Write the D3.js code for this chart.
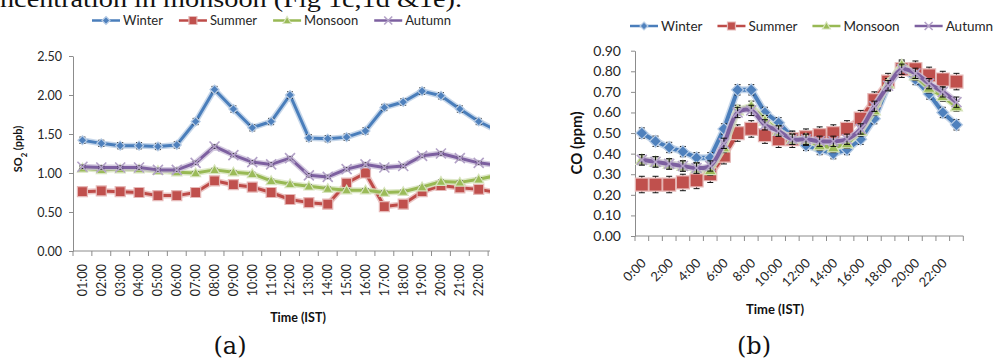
<!DOCTYPE html>
<html>
<head>
<meta charset="utf-8">
<script src="https://cdn.jsdelivr.net/npm/d3@7"></script>
<style>
  body { margin: 0; background: #fff; }
  svg { display: block; font-family: Lato, "Open Sans", sans-serif; }
</style>
</head>
<body>
<svg id="chart" width="1003" height="359"></svg>
<script>
// ---- Panel (a): SO2, hourly means per season ----
const soTimes = ["01:00","02:00","03:00","04:00","05:00","06:00","07:00","08:00","09:00","10:00","11:00","12:00",
                 "13:00","14:00","15:00","16:00","17:00","18:00","19:00","20:00","21:00","22:00","23:00"];
const soWinter  = [1.42,1.38,1.35,1.35,1.34,1.36,1.66,2.07,1.82,1.58,1.66,2.00,1.45,1.44,1.46,1.54,1.84,1.91,2.05,1.99,1.82,1.66,1.54];
const soSummer  = [0.76,0.77,0.76,0.75,0.71,0.71,0.75,0.90,0.85,0.82,0.75,0.66,0.62,0.60,0.87,1.00,0.57,0.60,0.76,0.84,0.81,0.79,0.75];
const soMonsoon = [1.06,1.04,1.05,1.05,1.03,1.01,1.00,1.04,1.01,0.99,0.90,0.86,0.83,0.80,0.78,0.78,0.75,0.76,0.82,0.89,0.88,0.92,0.97];
const soAutumn  = [1.08,1.07,1.07,1.07,1.04,1.04,1.13,1.34,1.23,1.14,1.11,1.19,0.97,0.95,1.05,1.11,1.07,1.09,1.22,1.25,1.19,1.13,1.10];
const soErr     = [0.04,0.02,0.02,0.02];   // Winter, Summer, Monsoon, Autumn
const soTicks   = [0,0.5,1,1.5,2,2.5];

// ---- Panel (b): CO, hourly means per season ----
const coTimes = ["0:00","1:00","2:00","3:00","4:00","5:00","6:00","7:00","8:00","9:00","10:00","11:00",
                 "12:00","13:00","14:00","15:00","16:00","17:00","18:00","19:00","20:00","21:00","22:00","23:00"];
const coWinter  = [0.50,0.46,0.43,0.41,0.38,0.38,0.52,0.71,0.71,0.60,0.55,0.48,0.44,0.42,0.40,0.42,0.47,0.57,0.73,0.82,0.76,0.69,0.60,0.54];
const coSummer  = [0.25,0.25,0.25,0.26,0.27,0.30,0.39,0.50,0.52,0.49,0.47,0.47,0.48,0.49,0.50,0.52,0.57,0.66,0.75,0.81,0.81,0.78,0.76,0.75];
const coMonsoon = [0.37,0.36,0.35,0.34,0.33,0.32,0.43,0.61,0.63,0.56,0.51,0.47,0.47,0.44,0.43,0.45,0.51,0.61,0.74,0.83,0.78,0.72,0.68,0.63];
const coAutumn  = [0.37,0.36,0.35,0.34,0.33,0.34,0.45,0.60,0.61,0.54,0.51,0.47,0.47,0.46,0.46,0.47,0.52,0.63,0.73,0.81,0.79,0.74,0.70,0.65];
const coErr     = [0.025,0.04,0.025,0.025];
const coTicks   = [0,0.1,0.2,0.3,0.4,0.5,0.6,0.7,0.8,0.9];

const seasons = ["Winter","Summer","Monsoon","Autumn"];
const markers = ["diamond","square","triangle","x"];
const lineColors   = ["#4A7EBB","#BE4B48","#98B954","#7D60A0"];
const glowColors   = ["#B9CDE5","#E6B9B8","#D7E4BD","#CCC1DA"];
const markerFill   = ["#4F81BD","#C0504D","#9BBB59","#B3A2C7"];

const svg = d3.select("#chart");
const defs = svg.append("defs");
defs.append("clipPath").attr("id","clipA")
  .append("rect").attr("x",0).attr("y",0).attr("width",490).attr("height",359);

const axisColor = "#8C8C8C";
const textColor = "#262626";

function markerPath(type, r) {
  if (type === "diamond") return `M0,${-r}L${r},0L0,${r}L${-r},0Z`;
  if (type === "square") return `M${-r},${-r}H${r}V${r}H${-r}Z`;
  if (type === "triangle") return `M0,${-r}L${r},${r*0.75}L${-r},${r*0.75}Z`;
  return `M${-r},${-r}L${r},${r}M${r},${-r}L${-r},${r}`;
}

function drawMarker(g, type, i, r, cx, cy) {
  const p = g.append("path").attr("d", markerPath(type, r))
    .attr("transform", `translate(${cx},${cy})`);
  if (type === "x") {
    p.attr("fill","none").attr("stroke", markerFill[i]).attr("stroke-width", 1.6);
  } else {
    p.attr("fill", markerFill[i]).attr("stroke", glowColors[i]).attr("stroke-width", 1.2);
  }
}

function drawPanel(cfg) {
  const { g, times, series, errs, x, y, ticks, lineW, markerR, smooth } = cfg;
  const bw = x.bandwidth();
  const x0 = x.range()[0], x1 = x.range()[1];
  const yBase = y(0);

  // y axis
  const ay = g.append("g").attr("transform", `translate(${x0},0)`)
    .call(d3.axisLeft(y).tickValues(ticks).tickFormat(d3.format(".2f"))
      .tickSize(4).tickSizeOuter(0).tickPadding(cfg.yPad));
  ay.selectAll("path,line").attr("stroke", axisColor);
  ay.selectAll("text").attr("fill", textColor).style("font-size", cfg.yFont + "px")
    .style("font-family", "Lato, sans-serif");

  // x axis line and category boundary ticks
  g.append("line").attr("x1", x0).attr("x2", x1).attr("y1", yBase).attr("y2", yBase)
    .attr("stroke", axisColor);
  g.selectAll(null).data(d3.range(times.length + 1)).join("line")
    .attr("x1", i => x0 + i * bw).attr("x2", i => x0 + i * bw)
    .attr("y1", yBase).attr("y2", yBase + 5).attr("stroke", axisColor);

  // x labels
  const shown = times.filter((d, i) => i % cfg.labelStep === 0);
  g.selectAll(null).data(shown).join("text")
    .attr("transform", d => `translate(${x(d) + bw / 2 + cfg.labelDx},${yBase + cfg.labelDy}) rotate(${cfg.labelRot})`)
    .attr("text-anchor", "end").attr("dy", cfg.labelRot === -90 ? "0.35em" : "0")
    .attr("fill", textColor).style("font-size", cfg.xFont + "px").text(d => d);

  // series
  series.forEach((vals, i) => {
    const pts = vals.map((v, k) => [x(times[k]) + bw / 2, y(v)]);
    const line = d3.line().curve(smooth && i === 3 ? d3.curveCatmullRom.alpha(0.5) : d3.curveLinear);
    const sg = g.append("g");
    sg.append("path").attr("d", line(pts)).attr("fill", "none")
      .attr("stroke", glowColors[i]).attr("stroke-width", lineW + 3).attr("stroke-linejoin", "round")
      .attr("opacity", 0.8);
    sg.append("path").attr("d", line(pts)).attr("fill", "none")
      .attr("stroke", lineColors[i]).attr("stroke-width", lineW).attr("stroke-linejoin", "round");
    // error bars
    const e = errs[i];
    vals.forEach((v, k) => {
      const cx = x(times[k]) + bw / 2;
      const ya = y(v + e), yb = y(v - e);
      sg.append("path").attr("d", `M${cx},${ya}V${yb}M${cx - 3},${ya}H${cx + 3}M${cx - 3},${yb}H${cx + 3}`)
        .attr("stroke", "#111").attr("stroke-width", 1).attr("fill", "none");
    });
    vals.forEach((v, k) => drawMarker(sg, markers[i], i, markerR[i], x(times[k]) + bw / 2, y(v)));
  });

  // y title
  const yt = g.append("text")
    .attr("transform", `translate(${cfg.yTitle[0]},${cfg.yTitle[1]}) rotate(-90)`)
    .attr("text-anchor", "middle").attr("dy", "0.35em")
    .attr("fill", "#111").style("font-weight", "bold").style("font-size", cfg.yTitleFont + "px");
  cfg.yTitleParts.forEach(p => {
    const t = yt.append("tspan").text(p.t);
    if (p.sub) t.attr("baseline-shift", "sub").style("font-size", (cfg.yTitleFont * 0.7) + "px");
  });

  // x title
  g.append("text").attr("x", cfg.xTitle[0]).attr("y", cfg.xTitle[1]).attr("text-anchor", "middle")
    .attr("fill", "#111").style("font-weight", "bold").style("font-size", cfg.xTitleFont + "px")
    .text("Time (IST)");

  // legend
  let lx = cfg.legend[0];
  const ly = cfg.legend[1];
  seasons.forEach((s, i) => {
    const lg = g.append("g");
    lg.append("line").attr("x1", lx).attr("x2", lx + 28).attr("y1", ly).attr("y2", ly)
      .attr("stroke", lineColors[i]).attr("stroke-width", 2.5);
    drawMarker(lg, markers[i], i, 4, lx + 14, ly);
    const t = lg.append("text").attr("x", lx + 31).attr("y", ly).attr("dy", "0.35em")
      .attr("fill", textColor).style("font-size", cfg.legendFont + "px").text(s);
    lx += 31 + t.node().getComputedTextLength() + cfg.legendGap;
  });
}

// ---- panel (a) ----
const gA = svg.append("g").attr("clip-path", "url(#clipA)");
gA.append("text").attr("x", 0).attr("y", 6.5)
  .attr("textLength", 462).attr("lengthAdjust", "spacingAndGlyphs")
  .style("font-family", "'Liberation Serif', serif").style("font-size", "24px").attr("fill", "#111")
  .text("ncentration in monsoon (Fig 1c,1d &1e).");

const xA = d3.scaleBand().domain(soTimes).range([73, 73 + 18.87 * soTimes.length]);
const yA = d3.scaleLinear().domain([0, 2.5]).range([251, 56]);
drawPanel({
  g: gA, times: soTimes, series: [soWinter, soSummer, soMonsoon, soAutumn], errs: soErr,
  x: xA, y: yA, ticks: soTicks, lineW: 3, markerR: [4.5, 5, 5, 5], smooth: false,
  yPad: 7, yFont: 12.5, xFont: 12.5, labelStep: 1, labelRot: -90, labelDx: 0, labelDy: 13,
  yTitle: [18, 149], yTitleFont: 11, yTitleParts: [{t: "SO"}, {t: "2", sub: true}, {t: " (ppb)"}],
  xTitle: [298, 322], xTitleFont: 12.5, legend: [92, 20.5], legendFont: 13, legendGap: 16
});
gA.append("text").attr("x", 230).attr("y", 354).attr("text-anchor", "middle")
  .style("font-family", "'DejaVu Serif', serif").style("font-size", "24px").attr("fill", "#111").text("(a)");

// ---- panel (b) ----
const gB = svg.append("g");
const xB = d3.scaleBand().domain(coTimes).range([635, 963.3]);
const yB = d3.scaleLinear().domain([0, 0.9]).range([236, 50.7]);
drawPanel({
  g: gB, times: coTimes, series: [coWinter, coSummer, coMonsoon, coAutumn], errs: coErr,
  x: xB, y: yB, ticks: coTicks, lineW: 4, markerR: [6, 6.5, 6, 5], smooth: true,
  yPad: 10, yFont: 14, xFont: 13, labelStep: 2, labelRot: -45, labelDx: 5, labelDy: 28,
  yTitle: [577, 143], yTitleFont: 15, yTitleParts: [{t: "CO (ppm)"}],
  xTitle: [775, 314], xTitleFont: 13, legend: [630, 26], legendFont: 13.5, legendGap: 15
});
gB.append("text").attr("x", 754).attr("y", 354).attr("text-anchor", "middle")
  .style("font-family", "'DejaVu Serif', serif").style("font-size", "24px").attr("fill", "#111").text("(b)");
</script>
</body>
</html>
